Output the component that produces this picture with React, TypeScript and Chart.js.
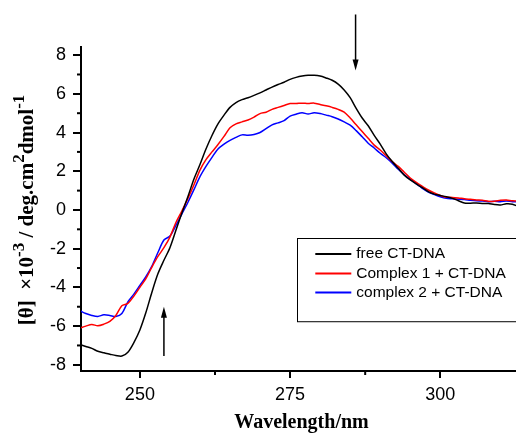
import { useEffect, useRef } from "react";
import { Chart, registerables } from "chart.js";

Chart.register(...registerables);

const wavelengths = [
  240, 241, 242, 243, 244, 245, 246, 247, 248, 249,
  250, 251, 252, 253, 254, 255, 256, 257, 258, 259,
  260, 261, 262, 263, 264, 265, 266, 267, 268, 269,
  270, 271, 272, 273, 274, 275, 276, 277, 278, 279,
  280, 281, 282, 283, 284, 285, 286, 287, 288, 289,
  290, 291, 292, 293, 294, 295, 296, 297, 298, 299,
  300, 301, 302, 303, 304, 305, 306, 307, 308, 309,
  310, 311, 312, 313,
];

const freeDNA = [
  -6.95, -7.05, -7.15, -7.3, -7.38, -7.45, -7.52, -7.55, -7.35, -6.85,
  -6.2, -5.3, -4.25, -3.3, -2.6, -1.95, -1.05, -0.15, 0.7, 1.6,
  2.35, 3.15, 3.85, 4.45, 4.9, 5.3, 5.55, 5.7, 5.8, 5.92,
  6.05, 6.2, 6.35, 6.48, 6.6, 6.75, 6.85, 6.92, 6.96, 6.96,
  6.92, 6.82, 6.7, 6.5, 6.2, 5.8, 5.25, 4.75, 4.35, 3.85,
  3.4, 2.9, 2.5, 2.15, 1.8, 1.55, 1.35, 1.15, 0.95, 0.82,
  0.75, 0.68, 0.6, 0.48, 0.36, 0.35, 0.36, 0.34, 0.33, 0.28,
  0.26, 0.32, 0.3, 0.18,
];

const complex1 = [
  -6.1, -6.0, -5.92, -5.98, -5.9, -5.76, -5.45, -4.95, -4.83, -4.45,
  -4.0, -3.55, -2.95, -2.4, -1.95, -1.4, -0.65, -0.05, 0.6, 1.3,
  2.06, 2.6, 3.0, 3.38, 3.8, 4.25, 4.45, 4.55, 4.65, 4.8,
  4.98, 5.05, 5.2, 5.3, 5.4, 5.5, 5.5, 5.52, 5.5, 5.52,
  5.45, 5.38, 5.3, 5.2, 5.05, 4.75, 4.4, 4.05, 3.7, 3.35,
  3.1, 2.8, 2.5, 2.25, 1.95, 1.65, 1.42, 1.22, 1.03, 0.88,
  0.75, 0.66, 0.65, 0.62, 0.58, 0.55, 0.52, 0.5, 0.45, 0.45,
  0.5, 0.52, 0.47, 0.46,
];

const complex2 = [
  -5.2, -5.35, -5.45, -5.5, -5.42, -5.45, -5.5, -5.35, -4.75, -4.35,
  -3.9, -3.45, -2.9, -2.2, -1.55, -1.35, -0.8, -0.2, 0.4, 1.05,
  1.72, 2.25, 2.72, 3.15, 3.4, 3.6, 3.75, 3.88, 3.86, 3.9,
  4.0, 4.2, 4.4, 4.5, 4.62, 4.85, 4.95, 5.02, 4.96, 5.02,
  4.98, 4.9, 4.82, 4.7, 4.55, 4.38, 4.1, 3.78, 3.45, 3.2,
  2.93, 2.7, 2.42, 2.1, 1.82, 1.58, 1.35, 1.12, 0.92, 0.8,
  0.68, 0.6, 0.58, 0.56, 0.54, 0.5, 0.47, 0.46, 0.43, 0.45,
  0.43, 0.46, 0.43, 0.43,
];

const seriesLabels = ["free CT-DNA", "Complex 1 + CT-DNA", "complex 2 + CT-DNA"];
const seriesColors = ["#000000", "#ff0000", "#0000ff"];
const seriesValues = [freeDNA, complex1, complex2];

const xMajorTicks = [250, 275, 300];
const xMinorTicks = [262.5, 287.5];
const yMajorTicks = [-8, -6, -4, -2, 0, 2, 4, 6, 8];
const yMinorTicks = [-7, -5, -3, -1, 1, 3, 5, 7];

const xTitle = "Wavelength/nm";

const SANS = "'Liberation Sans', Arial, sans-serif";
const SERIF = "'Liberation Serif', 'Times New Roman', serif";

const decorPlugin = {
  id: "decor",
  afterDraw(chart: any) {
    const ctx = chart.ctx;
    const xs = chart.scales.x;
    const ys = chart.scales.y;
    const area = chart.chartArea;
    ctx.save();
    ctx.strokeStyle = "#000";
    ctx.fillStyle = "#000";
    ctx.lineWidth = 2;
    // minor ticks
    yMinorTicks.forEach((v) => {
      const py = ys.getPixelForValue(v);
      ctx.beginPath();
      ctx.moveTo(area.left - 4, py);
      ctx.lineTo(area.left, py);
      ctx.stroke();
    });
    xMinorTicks.forEach((v) => {
      const px = xs.getPixelForValue(v);
      ctx.beginPath();
      ctx.moveTo(px, area.bottom);
      ctx.lineTo(px, area.bottom + 4);
      ctx.stroke();
    });

    // arrows
    const drawArrow = (xv: number, fromV: number, toV: number) => {
      const px = xs.getPixelForValue(xv);
      const y1 = ys.getPixelForValue(fromV);
      const y2 = ys.getPixelForValue(toV);
      const dir = y2 > y1 ? 1 : -1;
      ctx.lineWidth = 1.5;
      ctx.beginPath();
      ctx.moveTo(px, y1);
      ctx.lineTo(px, y2 - dir * 8);
      ctx.stroke();
      ctx.beginPath();
      ctx.moveTo(px, y2);
      ctx.lineTo(px - 3, y2 - dir * 11);
      ctx.lineTo(px + 3, y2 - dir * 11);
      ctx.closePath();
      ctx.fill();
    };
    drawArrow(285.9, 10.1, 7.2);
    drawArrow(254.0, -7.55, -5.0);

    // legend box
    const bx = xs.getPixelForValue(276.2);
    const by = ys.getPixelForValue(-1.45);
    const bb = ys.getPixelForValue(-5.75);
    ctx.lineWidth = 1;
    ctx.strokeRect(Math.round(bx) + 0.5, Math.round(by) + 0.5, chart.width + 10 - bx, bb - by);
    ctx.font = `15.5px ${SANS}`;
    ctx.textBaseline = "middle";
    ctx.textAlign = "left";
    const rowY = [by + 16, by + 35.5, by + 54.5];
    seriesLabels.forEach((lab, i) => {
      ctx.strokeStyle = seriesColors[i];
      ctx.lineWidth = 2;
      ctx.beginPath();
      ctx.moveTo(bx + 18, rowY[i]);
      ctx.lineTo(bx + 54, rowY[i]);
      ctx.stroke();
      ctx.fillStyle = "#000";
      ctx.fillText(lab, bx + 59, rowY[i]);
    });

    // x title
    ctx.font = `bold 20px ${SERIF}`;
    ctx.textAlign = "center";
    ctx.textBaseline = "alphabetic";
    ctx.fillText(xTitle, (area.left + area.right) / 2 + 3, 428);

    // y title with superscripts
    const big = `bold 21px ${SERIF}`;
    const small = `bold 17px ${SERIF}`;
    const parts: [string, boolean][] = [
      ["[\u03B8]  \u00D710", false],
      ["-3", true],
      [" / deg.cm", false],
      ["2", true],
      ["dmol", false],
      ["-1", true],
    ];
    let total = 0;
    const widths = parts.map(([t, sup]) => {
      ctx.font = sup ? small : big;
      const w = ctx.measureText(t).width;
      total += w;
      return w;
    });
    ctx.translate(33, 210);
    ctx.rotate(-Math.PI / 2);
    ctx.textAlign = "left";
    let cx = -total / 2;
    parts.forEach(([t, sup], i) => {
      ctx.font = sup ? small : big;
      ctx.fillText(t, cx, sup ? -9 : 0);
      cx += widths[i];
    });
    ctx.restore();
  },
};

export default function App() {
  const ref = useRef<HTMLCanvasElement | null>(null);
  useEffect(() => {
    if (!ref.current) return;
    const chart = new Chart(ref.current, {
      type: "line",
      data: {
        datasets: seriesValues.map((vals, i) => ({
          label: seriesLabels[i],
          data: wavelengths.map((w, j) => ({ x: w, y: vals[j] })),
          borderColor: seriesColors[i],
          borderWidth: 1.5,
          pointRadius: 0,
          tension: 0.3,
          fill: false,
        })),
      },
      options: {
        responsive: false,
        animation: false,
        layout: { padding: { top: 47, left: 0, right: 0, bottom: 0 } },
        plugins: { legend: { display: false }, tooltip: { enabled: false } },
        scales: {
          x: {
            type: "linear",
            min: 240.2,
            max: 312.6,
            afterBuildTicks: (s: any) => {
              s.ticks = xMajorTicks.map((v) => ({ value: v }));
            },
            afterFit: (s: any) => {
              s.height = 62;
            },
            grid: { display: true, drawOnChartArea: false, drawTicks: true, tickLength: 7, color: "#000", lineWidth: 2 },
            border: { display: true, color: "#000", width: 2 },
            ticks: { color: "#000", font: { family: SANS, size: 18 }, padding: 6, maxRotation: 0, autoSkip: false },
          },
          y: {
            type: "linear",
            min: -8.32,
            max: 8.42,
            afterBuildTicks: (s: any) => {
              s.ticks = yMajorTicks.map((v) => ({ value: v }));
            },
            afterFit: (s: any) => {
              s.width = 81;
            },
            grid: { display: true, drawOnChartArea: false, drawTicks: true, tickLength: 8, color: "#000", lineWidth: 2 },
            border: { display: true, color: "#000", width: 2 },
            ticks: { color: "#000", font: { family: SANS, size: 18 }, padding: 7, autoSkip: false },
          },
        },
      },
      plugins: [decorPlugin],
    } as any);
    return () => chart.destroy();
  }, []);
  return (
    <div style={{ position: "fixed", left: 0, top: 0, width: 516, height: 433, background: "#fff" }}>
      <canvas ref={ref} width={516} height={433} style={{ width: 516, height: 433 }} />
    </div>
  );
}
